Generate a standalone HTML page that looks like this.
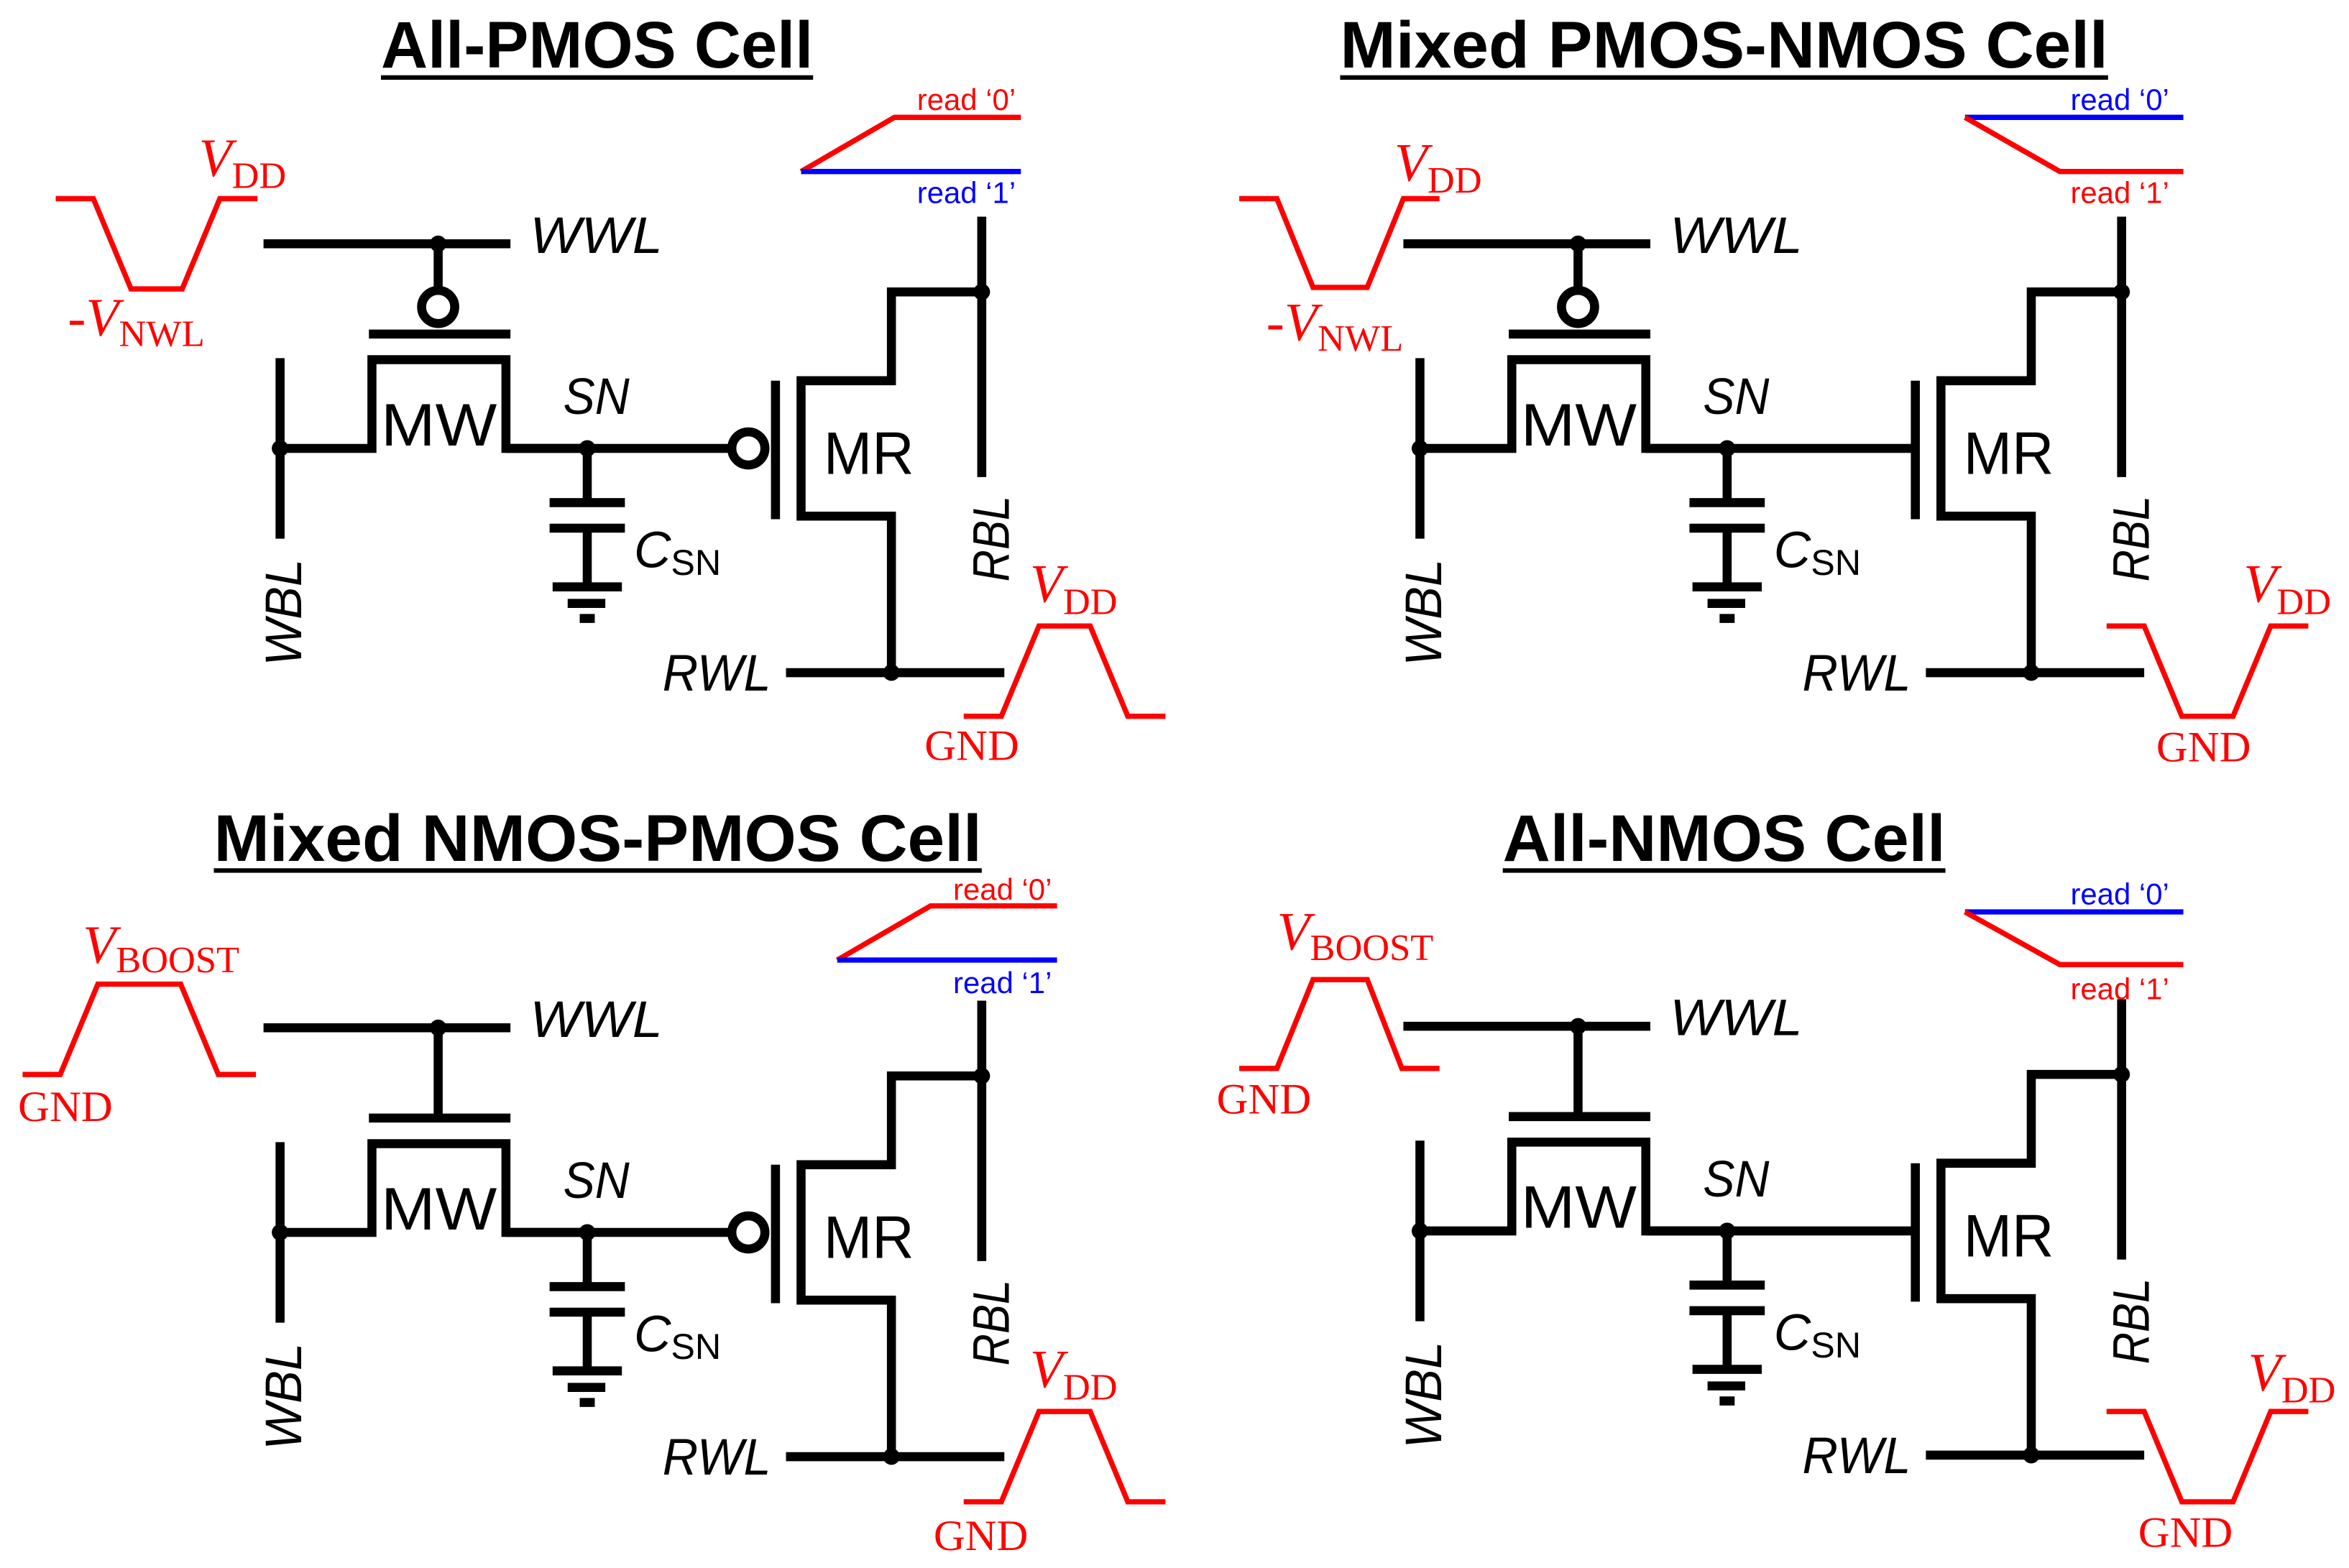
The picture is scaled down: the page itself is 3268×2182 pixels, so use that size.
<!DOCTYPE html>
<html><head><meta charset="utf-8"><style>
html,body{margin:0;padding:0;background:#fff}
svg{display:block}
.t{font-family:"Liberation Sans",sans-serif;font-weight:bold;font-size:44px}
.c{font-family:"Liberation Sans",sans-serif;font-size:40px}
.i{font-family:"Liberation Sans",sans-serif;font-style:italic;font-size:34px}
.s{font-family:"Liberation Serif",serif;fill:red}
.r{font-family:"Liberation Sans",sans-serif;font-size:20px}
</style></head><body>
<svg width="3268" height="2182" viewBox="0 0 1560 1042" preserveAspectRatio="none" xmlns="http://www.w3.org/2000/svg">
<defs>
<g id="core" fill="none" stroke="#000" stroke-width="6">
<path d="M175,162H339M186,238V358M186,298H247V239H336V298H390"/>
<path d="M390,298V334M365,334H415M365,351H415M390,351V390M367,390H413M377,401H402M385,411H395"/>
<path d="M515,253V345M592,447V343H532V253H592V194H652M652,144V317M522,447H667"/>
<g fill="#000" stroke="none">
<circle cx="291" cy="162" r="5.5"/><circle cx="186" cy="298" r="5.5"/><circle cx="390" cy="298" r="5.5"/><circle cx="652" cy="194" r="5.5"/><circle cx="592" cy="447" r="5.5"/>
</g>
</g>
<g id="mwp" fill="none" stroke="#000" stroke-width="6"><path d="M291,162V191M245,222H339"/><circle cx="291" cy="204" r="11" fill="#fff"/></g>
<g id="mwn" fill="none" stroke="#000" stroke-width="6"><path d="M291,162V222M245,222H339"/></g>
<g id="mrp" fill="none" stroke="#000" stroke-width="6"><path d="M336,298H485"/><circle cx="497" cy="298" r="11" fill="#fff"/></g>
<g id="mrn" fill="none" stroke="#000" stroke-width="6"><path d="M336,298H515"/></g>
</defs>

<g>
<use href="#core"/><use href="#mwp"/><use href="#mrp"/>
<text class="t" x="253" y="45" textLength="287" lengthAdjust="spacingAndGlyphs">All-PMOS Cell</text>
<rect x="253" y="50" width="287" height="3"/>
<text class="c" x="253" y="296" textLength="77" lengthAdjust="spacingAndGlyphs">MW</text>
<text class="c" x="547" y="315" textLength="60" lengthAdjust="spacingAndGlyphs">MR</text>
<text class="i" x="374" y="275" textLength="44" lengthAdjust="spacingAndGlyphs">SN</text>
<text class="i" x="352" y="168" textLength="88" lengthAdjust="spacingAndGlyphs">WWL</text>
<text class="i" x="440" y="459" textLength="72" lengthAdjust="spacingAndGlyphs">RWL</text>
<text class="i" x="421" y="377">C<tspan font-size="24" font-style="normal" dy="5">SN</tspan></text>
<text class="i" transform="translate(200,407) rotate(-90)" text-anchor="middle" textLength="71" lengthAdjust="spacingAndGlyphs">WBL</text>
<text class="i" transform="translate(670,358) rotate(-90)" text-anchor="middle" textLength="57" lengthAdjust="spacingAndGlyphs">RBL</text>
</g>
<g transform="translate(757,0)">
<use href="#core"/><use href="#mwp"/><use href="#mrn"/>
<text class="t" x="133" y="45" textLength="510" lengthAdjust="spacingAndGlyphs">Mixed PMOS-NMOS Cell</text>
<rect x="133" y="50" width="510" height="3"/>
<text class="c" x="253" y="296" textLength="77" lengthAdjust="spacingAndGlyphs">MW</text>
<text class="c" x="547" y="315" textLength="60" lengthAdjust="spacingAndGlyphs">MR</text>
<text class="i" x="374" y="275" textLength="44" lengthAdjust="spacingAndGlyphs">SN</text>
<text class="i" x="352" y="168" textLength="88" lengthAdjust="spacingAndGlyphs">WWL</text>
<text class="i" x="440" y="459" textLength="72" lengthAdjust="spacingAndGlyphs">RWL</text>
<text class="i" x="421" y="377">C<tspan font-size="24" font-style="normal" dy="5">SN</tspan></text>
<text class="i" transform="translate(200,407) rotate(-90)" text-anchor="middle" textLength="71" lengthAdjust="spacingAndGlyphs">WBL</text>
<text class="i" transform="translate(670,358) rotate(-90)" text-anchor="middle" textLength="57" lengthAdjust="spacingAndGlyphs">RBL</text>
</g>
<g transform="translate(0,521)">
<use href="#core"/><use href="#mwn"/><use href="#mrp"/>
<text class="t" x="142" y="51" textLength="510" lengthAdjust="spacingAndGlyphs">Mixed NMOS-PMOS Cell</text>
<rect x="142" y="56" width="510" height="3"/>
<text class="c" x="253" y="296" textLength="77" lengthAdjust="spacingAndGlyphs">MW</text>
<text class="c" x="547" y="315" textLength="60" lengthAdjust="spacingAndGlyphs">MR</text>
<text class="i" x="374" y="275" textLength="44" lengthAdjust="spacingAndGlyphs">SN</text>
<text class="i" x="352" y="168" textLength="88" lengthAdjust="spacingAndGlyphs">WWL</text>
<text class="i" x="440" y="459" textLength="72" lengthAdjust="spacingAndGlyphs">RWL</text>
<text class="i" x="421" y="377">C<tspan font-size="24" font-style="normal" dy="5">SN</tspan></text>
<text class="i" transform="translate(200,407) rotate(-90)" text-anchor="middle" textLength="71" lengthAdjust="spacingAndGlyphs">WBL</text>
<text class="i" transform="translate(670,358) rotate(-90)" text-anchor="middle" textLength="57" lengthAdjust="spacingAndGlyphs">RBL</text>
</g>
<g transform="translate(757,520)">
<use href="#core"/><use href="#mwn"/><use href="#mrn"/>
<text class="t" x="241" y="52" textLength="294" lengthAdjust="spacingAndGlyphs">All-NMOS Cell</text>
<rect x="241" y="57" width="294" height="3"/>
<text class="c" x="253" y="296" textLength="77" lengthAdjust="spacingAndGlyphs">MW</text>
<text class="c" x="547" y="315" textLength="60" lengthAdjust="spacingAndGlyphs">MR</text>
<text class="i" x="374" y="275" textLength="44" lengthAdjust="spacingAndGlyphs">SN</text>
<text class="i" x="352" y="168" textLength="88" lengthAdjust="spacingAndGlyphs">WWL</text>
<text class="i" x="440" y="459" textLength="72" lengthAdjust="spacingAndGlyphs">RWL</text>
<text class="i" x="421" y="377">C<tspan font-size="24" font-style="normal" dy="5">SN</tspan></text>
<text class="i" transform="translate(200,407) rotate(-90)" text-anchor="middle" textLength="71" lengthAdjust="spacingAndGlyphs">WBL</text>
<text class="i" transform="translate(670,358) rotate(-90)" text-anchor="middle" textLength="57" lengthAdjust="spacingAndGlyphs">RBL</text>
</g>

<g fill="none" stroke-width="3.5">
<path stroke="red" d="M37,132H62L87,192H121L146,132H171"/>
<path stroke="red" d="M640,476H665L690,416H724L749,476H774"/>
<path stroke="red" d="M532,114L594,78H678"/>
<path stroke="#00f" d="M532,114H678"/>

<path stroke="red" d="M823,132H848L872,191H908L932,132H956"/>
<path stroke="red" d="M1399,416H1424L1449,476H1483L1508,416H1533"/>
<path stroke="#00f" d="M1305,78H1450"/>
<path stroke="red" d="M1305,78L1368,114H1450"/>

<path stroke="red" d="M15,714H40L65,654H120L145,714H170"/>
<path stroke="red" d="M640,998H665L690,938H724L749,998H774"/>
<path stroke="red" d="M556,638L618,602H702"/>
<path stroke="#00f" d="M556,638H702"/>

<path stroke="red" d="M823,710H848L872,651H908L931,710H956"/>
<path stroke="red" d="M1399,938H1424L1449,998H1483L1508,938H1533"/>
<path stroke="#00f" d="M1305,606H1450"/>
<path stroke="red" d="M1305,606L1368,641H1450"/>
</g>
<g class="s">
<text x="132" y="117" font-size="36" font-style="italic">V<tspan font-style="normal" font-size="25" dy="8">DD</tspan></text>
<text x="45" y="223" font-size="36"><tspan>-</tspan><tspan font-style="italic">V</tspan><tspan font-size="25" dy="7">NWL</tspan></text>
<text x="684" y="400" font-size="36" font-style="italic">V<tspan font-style="normal" font-size="25" dy="8">DD</tspan></text>
<text x="614" y="505" font-size="29">GND</text>

<text x="926" y="120" font-size="36" font-style="italic">V<tspan font-style="normal" font-size="25" dy="8">DD</tspan></text>
<text x="841" y="226" font-size="36"><tspan>-</tspan><tspan font-style="italic">V</tspan><tspan font-size="25" dy="7">NWL</tspan></text>
<text x="1490" y="400" font-size="36" font-style="italic">V<tspan font-style="normal" font-size="25" dy="8">DD</tspan></text>
<text x="1432" y="506" font-size="29">GND</text>

<text x="55" y="640" font-size="36" font-style="italic">V<tspan font-style="normal" font-size="25" dy="6">BOOST</tspan></text>
<text x="12" y="745" font-size="29">GND</text>
<text x="684" y="922" font-size="36" font-style="italic">V<tspan font-style="normal" font-size="25" dy="8">DD</tspan></text>
<text x="620" y="1030" font-size="29">GND</text>

<text x="848" y="631" font-size="36" font-style="italic">V<tspan font-style="normal" font-size="25" dy="7">BOOST</tspan></text>
<text x="808" y="740" font-size="29">GND</text>
<text x="1493" y="924" font-size="36" font-style="italic">V<tspan font-style="normal" font-size="25" dy="8">DD</tspan></text>
<text x="1420" y="1028" font-size="29">GND</text>
</g>
<g class="r">
<text x="609" y="73" fill="red">read ‘0’</text>
<text x="609" y="135" fill="#00f">read ‘1’</text>
<text x="1375" y="73" fill="#00f">read ‘0’</text>
<text x="1375" y="135" fill="red">read ‘1’</text>
<text x="633" y="598" fill="red">read ‘0’</text>
<text x="633" y="660" fill="#00f">read ‘1’</text>
<text x="1375" y="601" fill="#00f">read ‘0’</text>
<text x="1375" y="664" fill="red">read ‘1’</text>
</g>
</svg>
</body></html>
